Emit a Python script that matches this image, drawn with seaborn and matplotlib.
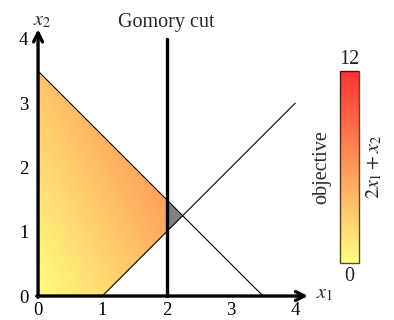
import numpy as np
import pandas as pd
import matplotlib
matplotlib.use("Agg")
import matplotlib.pyplot as plt
import seaborn as sns
from matplotlib.colors import LinearSegmentedColormap, Normalize
from matplotlib.patches import Polygon
from matplotlib.cm import ScalarMappable

# ---- data -------------------------------------------------------------
tick_values = [0, 1, 2, 3, 4]
tick_labels = ["0", "1", "2", "3", "4"]

# constraint x1 + x2 <= 3.5
budget_x1 = [0.0, 3.5]
budget_x2 = [3.5, 0.0]
# constraint x1 - x2 <= 1
diag_x1 = [1.0, 4.0]
diag_x2 = [0.0, 3.0]
# Gomory cut x1 <= 2
cut_x1 = [2.0, 2.0]
cut_x2 = [0.0, 4.0]

# feasible region after the cut
feasible_x1 = [0.0, 1.0, 2.0, 2.0, 0.0]
feasible_x2 = [0.0, 0.0, 1.0, 1.5, 3.5]
# piece removed by the cut
removed_x1 = [2.0, 2.25, 2.0]
removed_x2 = [1.0, 1.25, 1.5]

objective_weights = [2, 1]
objective_range = [0, 12]

# ---- style ------------------------------------------------------------
sns.set_theme(style="white")
plt.rcParams["font.family"] = ["Liberation Serif", "DejaVu Serif"]
plt.rcParams["mathtext.fontset"] = "stix"
FS = 14.5

cmap = LinearSegmentedColormap.from_list("objective", ["#ffff80", "#ff3232"])
norm = Normalize(vmin=objective_range[0], vmax=objective_range[1])

fig = plt.figure(figsize=(3.94, 3.2), dpi=100)
ax = fig.add_axes([0.0475, 0.0147, 0.7508, 0.924])
ax.set_xlim(-0.3, 4.3)
ax.set_ylim(-0.3, 4.3)
ax.set_aspect("auto")

# shaded objective over the feasible region
g = np.linspace(0, 4, 500)
G1, G2 = np.meshgrid(g, g)
Z = objective_weights[0] * G1 + objective_weights[1] * G2
region = Polygon(np.column_stack([feasible_x1, feasible_x2]), closed=True,
                 facecolor="none", edgecolor="none")
ax.add_patch(region)
img = ax.imshow(Z, origin="lower", extent=[0, 4, 0, 4], cmap=cmap, norm=norm,
                interpolation="bilinear", zorder=1)
img.set_clip_path(region)

ax.add_patch(Polygon(np.column_stack([removed_x1, removed_x2]), closed=True,
                     facecolor="#808080", edgecolor="none", zorder=1))

# constraint lines
lines = pd.DataFrame({
    "x1": budget_x1 + diag_x1,
    "x2": budget_x2 + diag_x2,
    "constraint": ["budget"] * 2 + ["diag"] * 2,
})
sns.lineplot(data=lines, x="x1", y="x2", units="constraint", estimator=None,
             color="black", linewidth=0.8, sort=False, ax=ax, zorder=2)

cut = pd.DataFrame({"x1": cut_x1, "x2": cut_x2})
sns.lineplot(data=cut, x="x1", y="x2", color="black", linewidth=2.4,
             estimator=None, sort=False, ax=ax, zorder=3)
ax.text(cut_x1[1], 4.1, "Gomory cut", ha="center", va="bottom", fontsize=FS)

# axes with arrows
for s in ax.spines.values():
    s.set_color("none")
ax.spines["left"].set_position(("data", 0))
ax.spines["bottom"].set_position(("data", 0))
arrow = dict(arrowstyle="->", lw=2.4, color="black", mutation_scale=16,
             shrinkA=0, shrinkB=0)
ax.annotate("", xy=(4.2, 0), xytext=(-0.02, 0), arrowprops=arrow, zorder=4)
ax.annotate("", xy=(0, 4.15), xytext=(0, -0.02), arrowprops=arrow, zorder=4)

ax.set_xticks(tick_values, tick_labels)
ax.set_yticks(tick_values, tick_labels)
ax.tick_params(direction="inout", length=4, width=0.8, colors="black",
               labelsize=13.5)
ax.tick_params(axis="x", pad=2)
ax.tick_params(axis="y", pad=5)
ax.set_xlabel("")
ax.set_ylabel("")
ax.text(4.33, 0.03, r"$x_1$", ha="left", va="center", fontsize=FS)
ax.text(0.06, 4.28, r"$x_2$", ha="center", va="center", fontsize=FS)

# colour bar
cax = fig.add_axes([340 / 394, 57 / 320, 19 / 394, 192 / 320])
cb = fig.colorbar(ScalarMappable(norm=norm, cmap=cmap), cax=cax, ticks=[])
cb.outline.set_edgecolor((0, 0, 0, 0.7))
cb.outline.set_linewidth(1.0)
cax.text(0.5, 1.01, "12", transform=cax.transAxes, ha="center", va="bottom",
         fontsize=FS)
cax.text(0.5, -0.02, "0", transform=cax.transAxes, ha="center", va="top",
         fontsize=FS)
cax.text(-0.95, 0.5, "objective", transform=cax.transAxes, rotation=90,
         ha="center", va="center", fontsize=FS)
cax.text(1.8, 0.5, r"$2x_1 + x_2$", transform=cax.transAxes, rotation=90,
         ha="center", va="center", fontsize=FS)

fig.savefig("out.png", dpi=100)
